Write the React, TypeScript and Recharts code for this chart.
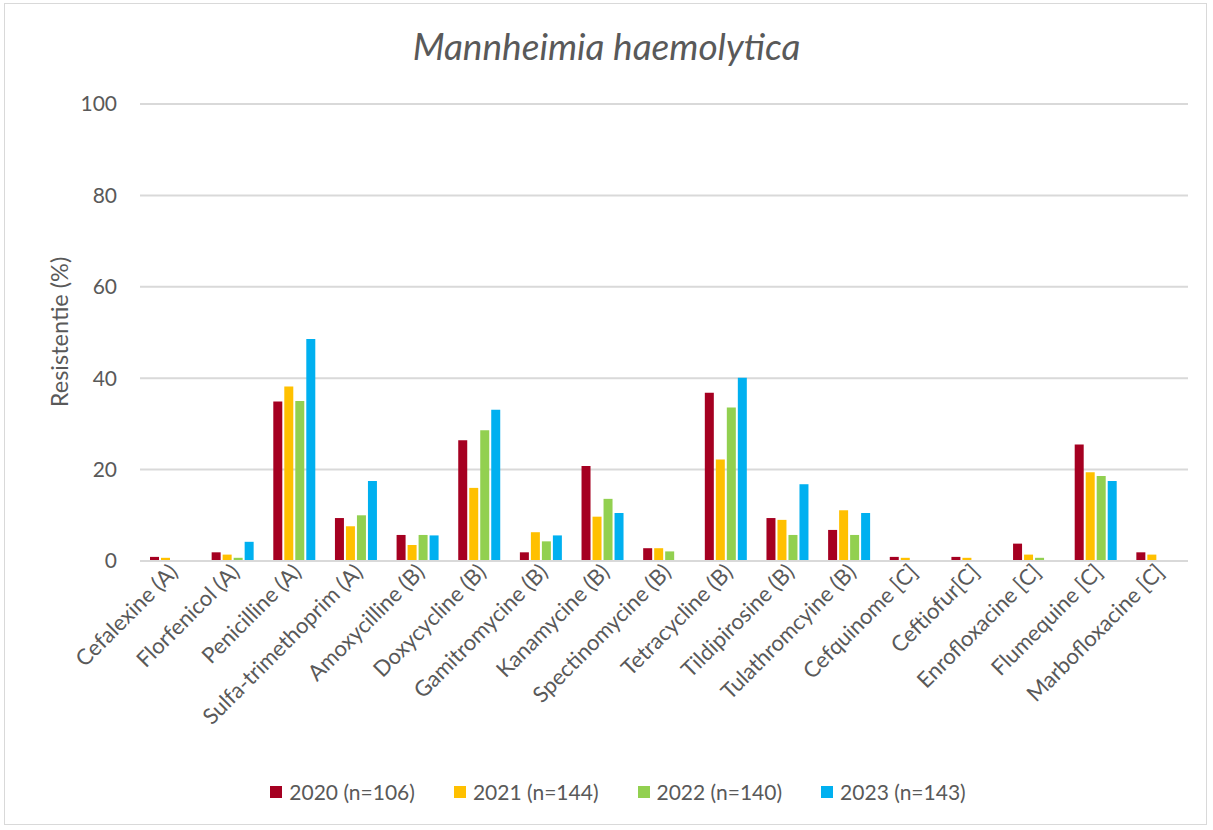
import { BarChart, Bar, XAxis, YAxis, CartesianGrid } from 'recharts'

const categories = [
  'Cefalexine (A)', 'Florfenicol (A)', 'Penicilline (A)', 'Sulfa-trimethoprim (A)',
  'Amoxycilline (B)', 'Doxycycline (B)', 'Gamitromycine (B)', 'Kanamycine (B)',
  'Spectinomycine (B)', 'Tetracycline (B)', 'Tildipirosine (B)', 'Tulathromcyine (B)',
  'Cefquinome [C]', 'Ceftiofur[C]', 'Enrofloxacine [C]', 'Flumequine [C]', 'Marbofloxacine [C]',
]

const y2020 = [0.9, 1.9, 34.9, 9.4, 5.7, 26.4, 1.9, 20.8, 2.8, 36.8, 9.4, 6.8, 0.9, 0.9, 3.8, 25.5, 1.9]
const y2021 = [0.7, 1.4, 38.2, 7.6, 3.5, 16.0, 6.3, 9.7, 2.8, 22.2, 9.0, 11.1, 0.7, 0.7, 1.4, 19.4, 1.4]
const y2022 = [null, 0.7, 35.0, 10.0, 5.7, 28.6, 4.3, 13.6, 2.1, 33.6, 5.7, 5.7, null, null, 0.7, 18.6, null]
const y2023 = [null, 4.2, 48.6, 17.5, 5.6, 33.1, 5.6, 10.5, null, 40.1, 16.8, 10.5, null, null, null, 17.5, null]

const yTicks = [0, 20, 40, 60, 80, 100]

const series = [
  { key: 'y2020', name: '2020 (n=106)', color: '#A50021' },
  { key: 'y2021', name: '2021 (n=144)', color: '#FFC000' },
  { key: 'y2022', name: '2022 (n=140)', color: '#92D050' },
  { key: 'y2023', name: '2023 (n=143)', color: '#00B0F0' },
]

const data = categories.map((name, i) => ({
  name,
  y2020: y2020[i],
  y2021: y2021[i],
  y2022: y2022[i],
  y2023: y2023[i],
}))

const FONT = 'Lato, "Open Sans", sans-serif'
const TEXT = '#595959'

const CategoryTick = ({ x, y, payload }: any) => (
  <g transform={`translate(${x + 3},${y - 1})`}>
    <text
      x={0}
      y={0}
      dy="0.35em"
      textAnchor="end"
      transform="rotate(-45)"
      fill={TEXT}
      fontSize={22}
      fontFamily={FONT}
    >
      {payload.value}
    </text>
  </g>
)

export default function App() {
  return (
    <div style={{ position: 'absolute', left: 0, top: 0, width: 1213, height: 830, background: '#fff', fontFamily: FONT }}>
      <div style={{
        position: 'absolute', left: 4, top: 3, width: 1203, height: 822,
        border: '1px solid #d9d9d9', boxSizing: 'border-box',
      }} />
      <div style={{
        position: 'absolute', left: 0, top: 23, width: 1213, textAlign: 'center',
        fontSize: 37, fontStyle: 'italic', color: TEXT,
      }}>
        Mannheimia haemolytica
      </div>

      <div style={{ position: 'absolute', left: 0, top: 0 }}>
        <BarChart
          width={1213}
          height={830}
          data={data}
          margin={{ top: 104, right: 25, left: 0, bottom: 0 }}
          barCategoryGap={10}
          barGap={2}
        >
          <CartesianGrid vertical={false} stroke="#d9d9d9" strokeWidth={2} />
          <XAxis
            dataKey="name"
            interval={0}
            axisLine={{ stroke: '#d9d9d9', strokeWidth: 2 }}
            tickLine={false}
            tick={<CategoryTick />}
            height={269}
          />
          <YAxis
            width={140}
            domain={[0, 100]}
            ticks={yTicks}
            axisLine={false}
            tickLine={false}
            tickMargin={17}
            tick={{ fill: TEXT, fontSize: 21, fontFamily: FONT }}
          />
          {series.map((s) => (
            <Bar key={s.key} dataKey={s.key} name={s.name} fill={s.color} isAnimationActive={false} />
          ))}
        </BarChart>
      </div>

      {/* y-as titel */}
      <div style={{
        position: 'absolute', left: -41, top: 318, width: 200, height: 28, lineHeight: '28px',
        textAlign: 'center', fontSize: 23.5, color: TEXT, transform: 'rotate(-90deg)',
      }}>
        Resistentie (%)
      </div>

      <div style={{
        position: 'absolute', left: 0, top: 779, width: 1213,
        display: 'flex', justifyContent: 'center', gap: 39, paddingLeft: 23, boxSizing: 'border-box',
      }}>
        {series.map((s) => (
          <div key={s.key} style={{ display: 'flex', alignItems: 'center', gap: 7 }}>
            <span style={{ width: 12, height: 12, background: s.color, display: 'inline-block' }} />
            <span style={{ fontSize: 21, color: TEXT }}>{s.name}</span>
          </div>
        ))}
      </div>
    </div>
  )
}
